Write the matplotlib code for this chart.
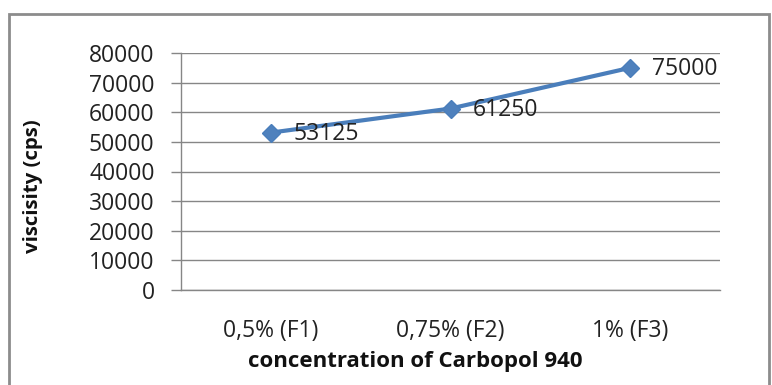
import matplotlib.pyplot as plt
from matplotlib.patches import Rectangle

categories = ["0,5% (F1)", "0,75% (F2)", "1% (F3)"]
viscosity = [53125, 61250, 75000]
yticks = [0, 10000, 20000, 30000, 40000, 50000, 60000, 70000, 80000]

plt.rcParams['font.family'] = ['Open Sans', 'DejaVu Sans']

W, H = 772, 385
fig = plt.figure(figsize=(W / 100, H / 100), dpi=100)

# grey frame around the chart (cut off on the bottom like the reference)
fig.patches.append(Rectangle((9 / W, -0.1), 760 / W, 1.1 - 14 / H, transform=fig.transFigure,
                             fill=False, edgecolor='#8c8c8c', linewidth=2))

ax = fig.add_axes([181 / W, 1 - 290 / H, (720 - 181) / W, (290 - 53) / H])

x = [0.5, 1.5, 2.5]
ax.plot(x, viscosity, color='#4a7ebb', linewidth=3, marker='D', markersize=9,
        markeredgecolor='#4a7ebb', markerfacecolor='#4f81bd', zorder=3)
for xi, v in zip(x, viscosity):
    ax.annotate(str(v), (xi, v), xytext=(16, -1), textcoords='offset points',
                va='center', ha='left', fontsize=16.5, color='#222222')

ax.set_xlim(0, 3)
ax.set_ylim(0, 80000)
ax.set_yticks(yticks)
ax.set_yticklabels([str(t) for t in yticks], fontsize=16.5, color='#222222')
ax.set_xticks(x)
ax.set_xticklabels(categories, fontsize=16.5, color='#222222')
ax.tick_params(axis='x', length=0, pad=21)
ax.tick_params(axis='y', length=7, width=1, color='#868686', pad=12)
ax.grid(axis='y', color='#868686', linewidth=1)
ax.set_axisbelow(True)
for s in ['top', 'right']:
    ax.spines[s].set_visible(False)
for s in ['left', 'bottom']:
    ax.spines[s].set_color('#868686')
    ax.spines[s].set_linewidth(1)

fig.text(415 / W, 1 - 362 / H, "concentration of Carbopol 940", ha='center', va='center',
         fontsize=16, fontweight='bold', color='#111111')
fig.text(33 / W, 1 - 186 / H, "viscisity (cps)", ha='center', va='center', rotation=90,
         fontsize=14.7, fontweight='bold', color='#111111')

fig.savefig("out.png", dpi=100)
